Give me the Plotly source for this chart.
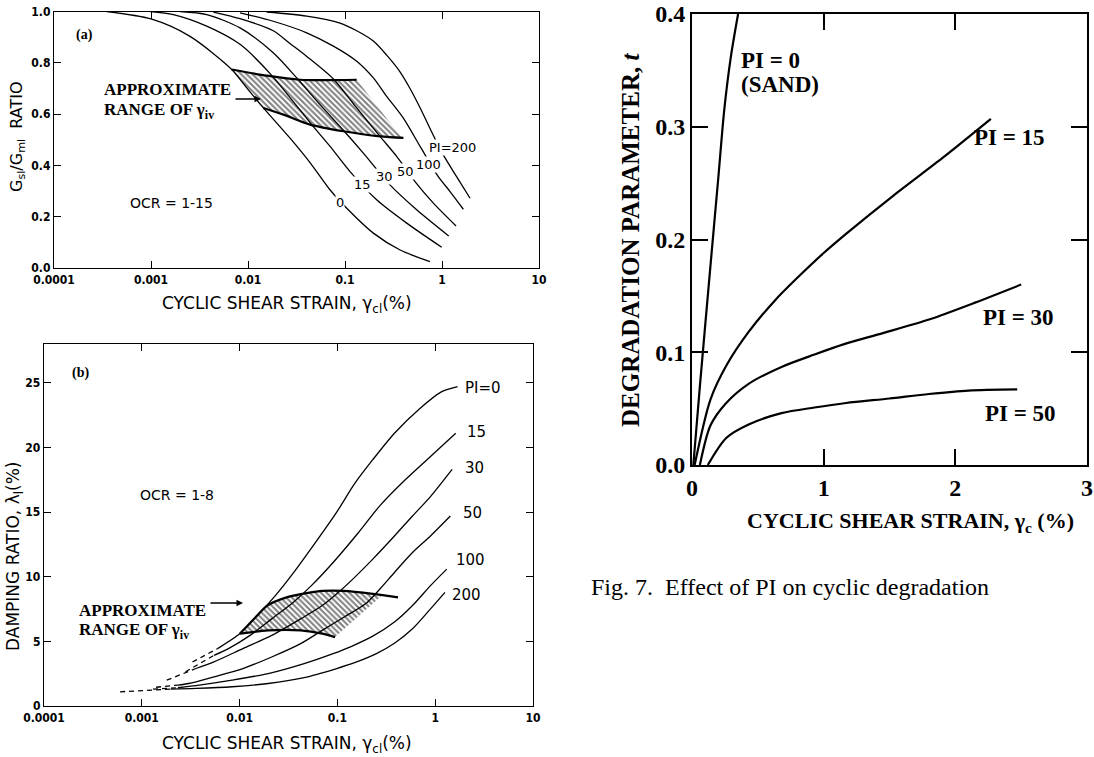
import plotly.graph_objects as go

W, H = 1094, 757


def px(x):
    return x / W


def py(y):
    return 1 - y / H


# ---------------- Panel (a): Gs/Gm ratio vs cyclic shear strain (%) ----------------
A_PI0_STRAIN = [0.00035, 0.001, 0.0025, 0.0068, 0.0097, 0.0144, 0.027, 0.044, 0.070, 0.108, 0.196, 0.37, 0.75]
A_PI0_G = [1.0, 0.971, 0.904, 0.774, 0.702, 0.624, 0.507, 0.409, 0.305, 0.227, 0.136, 0.070, 0.025]
A_PI15_STRAIN = [0.00098, 0.0017, 0.00375, 0.00828, 0.0169, 0.0454, 0.0702, 0.1127, 0.212, 0.4325, 0.993]
A_PI15_G = [1.0, 0.988, 0.943, 0.872, 0.758, 0.559, 0.474, 0.376, 0.266, 0.175, 0.081]
A_PI30_STRAIN = [0.002, 0.00375, 0.00828, 0.0182, 0.0318, 0.0553, 0.0962, 0.1545, 0.291, 0.548, 1.172]
A_PI30_G = [1.0, 0.988, 0.936, 0.839, 0.741, 0.637, 0.537, 0.448, 0.324, 0.227, 0.125]
A_PI50_STRAIN = [0.0044, 0.00828, 0.0182, 0.0271, 0.0403, 0.0759, 0.1321, 0.2296, 0.341, 0.527, 0.815, 1.396]
A_PI50_G = [0.998, 0.972, 0.925, 0.875, 0.825, 0.737, 0.624, 0.513, 0.435, 0.337, 0.253, 0.164]
A_PI100_STRAIN = [0.00828, 0.0182, 0.0403, 0.0759, 0.1321, 0.196, 0.269, 0.398, 0.603, 0.912, 1.211, 1.660]
A_PI100_G = [0.995, 0.962, 0.917, 0.865, 0.806, 0.741, 0.669, 0.585, 0.470, 0.357, 0.298, 0.229]
A_PI200_STRAIN = [0.0156, 0.0403, 0.0889, 0.1321, 0.196, 0.269, 0.369, 0.468, 0.594, 0.75, 1.0, 1.42, 1.945]
A_PI200_G = [0.998, 0.982, 0.955, 0.925, 0.885, 0.830, 0.765, 0.700, 0.625, 0.545, 0.450, 0.355, 0.272]

A_RANGE_STRAIN = [0.00679, 0.0156, 0.0344, 0.132, 0.385, 0.2296, 0.0962, 0.0437, 0.0232, 0.01439, 0.0097, 0.00679]
A_RANGE_G = [0.774, 0.750, 0.734, 0.734, 0.507, 0.513, 0.533, 0.559, 0.598, 0.624, 0.702, 0.774]
A_RANGE_TOP_STRAIN = [0.00679, 0.0156, 0.0344, 0.132]
A_RANGE_TOP_G = [0.774, 0.750, 0.734, 0.734]
A_RANGE_BOT_STRAIN = [0.01439, 0.0232, 0.0437, 0.0962, 0.2296, 0.40]
A_RANGE_BOT_G = [0.624, 0.598, 0.559, 0.533, 0.513, 0.507]

A_XTICKS = [0.0001, 0.001, 0.01, 0.1, 1, 10]
A_XTICKTEXT = ["0.0001", "0.001", "0.01", "0.1", "1", "10"]
A_YTICKS = [0.0, 0.2, 0.4, 0.6, 0.8, 1.0]
A_YTICKTEXT = ["0.0", "0.2", "0.4", "0.6", "0.8", "1.0"]

# ---------------- Panel (b): damping ratio (%) vs cyclic shear strain (%) ----------------
B_PI0_STRAIN = [0.00596, 0.0101, 0.0152, 0.0232, 0.0355, 0.059, 0.0984, 0.150, 0.230, 0.383, 0.693, 1.156, 1.694]
B_PI0_D = [4.44, 5.6, 7.0, 8.54, 10.3, 12.6, 15.0, 17.2, 19.05, 21.1, 23.0, 24.3, 24.7]
B_PI15_STRAIN = [0.00547, 0.00769, 0.0128, 0.0213, 0.0355, 0.0542, 0.0904, 0.1637, 0.2723, 0.494, 0.895, 1.622]
B_PI15_D = [3.92, 4.44, 5.46, 6.74, 8.03, 9.31, 11.1, 13.4, 15.5, 17.5, 19.3, 21.1]
B_PI30_STRAIN = [0.00358, 0.00547, 0.0108, 0.0213, 0.0421, 0.070, 0.107, 0.150, 0.230, 0.383, 0.586, 0.895, 1.489]
B_PI30_D = [2.9, 3.41, 4.44, 5.46, 6.74, 7.77, 8.92, 9.95, 11.36, 13.15, 14.7, 16.2, 18.3]
B_PI50_STRAIN = [0.00234, 0.00302, 0.00547, 0.0108, 0.0213, 0.0421, 0.070, 0.1164, 0.194, 0.272, 0.383, 0.586, 0.895, 1.429]
B_PI50_D = [1.62, 1.74, 2.26, 2.9, 3.79, 4.82, 5.85, 6.87, 7.9, 9.05, 10.33, 11.87, 13.15, 14.69]
B_PI100_STRAIN = [0.00234, 0.00389, 0.00838, 0.0196, 0.0457, 0.0904, 0.138, 0.230, 0.383, 0.586, 0.895, 1.312]
B_PI100_D = [1.41, 1.62, 2.0, 2.51, 3.28, 4.05, 4.6, 5.4, 6.49, 7.77, 9.31, 10.59]
B_PI200_STRAIN = [0.00197, 0.00358, 0.00838, 0.0196, 0.0457, 0.0984, 0.150, 0.2506, 0.383, 0.586, 0.895, 1.259]
B_PI200_D = [1.31, 1.36, 1.49, 1.74, 2.2, 2.9, 3.35, 4.05, 4.85, 5.97, 7.51, 8.79]

# dashed low-strain extensions
B_DASH_STRAIN = {
    "0": [0.0033, 0.00596],
    "15": [0.0028, 0.00547],
    "30": [0.0018, 0.00358],
    "50": [0.0014, 0.00234],
    "100": [0.0013, 0.00234],
    "200": [0.0006, 0.00197],
}
B_DASH_D = {
    "0": [3.4, 4.44],
    "15": [2.65, 3.92],
    "30": [2.0, 2.9],
    "50": [1.45, 1.62],
    "100": [1.3, 1.41],
    "200": [1.1, 1.31],
}

B_RANGE_STRAIN = [0.01009, 0.01514, 0.01905, 0.0302, 0.0501, 0.0700, 0.1164, 0.230, 0.285, 0.0946, 0.070, 0.0421, 0.0196, 0.01009]
B_RANGE_D = [5.6, 7.0, 7.75, 8.4, 8.75, 8.9, 8.9, 8.67, 8.55, 5.33, 5.6, 5.85, 5.85, 5.6]
B_RANGE_TOP_STRAIN = [0.01009, 0.01514, 0.01905, 0.0302, 0.0501, 0.0700, 0.1164, 0.230, 0.417]
B_RANGE_TOP_D = [5.6, 7.0, 7.75, 8.4, 8.75, 8.9, 8.9, 8.67, 8.4]
B_RANGE_BOT_STRAIN = [0.01009, 0.0196, 0.0421, 0.070, 0.0946]
B_RANGE_BOT_D = [5.6, 5.85, 5.85, 5.6, 5.33]

B_YTICKS = [0, 5, 10, 15, 20, 25]

# ---------------- Right panel: degradation parameter t vs cyclic shear strain (%) ----------------
R_PI0_X = [0.01, 0.06, 0.135, 0.2, 0.245, 0.295, 0.35]
R_PI0_T = [0.0, 0.07, 0.17, 0.255, 0.315, 0.362, 0.4]
R_PI15_X = [0.02, 0.14, 0.26, 0.43, 0.63, 0.8, 1.0, 1.17, 1.53, 1.91, 2.27]
R_PI15_T = [0.0, 0.058, 0.088, 0.118, 0.146, 0.166, 0.188, 0.205, 0.239, 0.273, 0.307]
R_PI30_X = [0.06, 0.14, 0.26, 0.43, 0.68, 0.93, 1.15, 1.45, 1.8, 2.15, 2.5]
R_PI30_T = [0.0, 0.035, 0.055, 0.072, 0.087, 0.098, 0.107, 0.117, 0.129, 0.144, 0.16]
R_PI50_X = [0.12, 0.26, 0.43, 0.68, 0.93, 1.17, 1.5, 1.8, 2.1, 2.47]
R_PI50_T = [0.0, 0.024, 0.036, 0.046, 0.051, 0.055, 0.059, 0.063, 0.066, 0.067]
R_XTICKS = [0, 1, 2, 3]
R_YTICKS = [0.0, 0.1, 0.2, 0.3, 0.4]
R_YTICKTEXT = ["0.0", "0.1", "0.2", "0.3", "0.4"]

# ---------------- fonts ----------------
SANS = "DejaVu Sans Condensed, DejaVu Sans, sans-serif"
SANS_W = "DejaVu Sans, sans-serif"
SERIF = "Liberation Serif, Times New Roman, serif"

fig = go.Figure()


def add_line(x, y, xa, ya, width=1.3, dash="solid", smooth=True):
    fig.add_trace(go.Scatter(
        x=x, y=y, xaxis=xa, yaxis=ya, mode="lines",
        line=dict(color="black", width=width, dash=dash,
                  shape="spline" if smooth else "linear", smoothing=0.8),
        hoverinfo="skip", showlegend=False))


def add_hatch(x, y, xa, ya):
    fig.add_trace(go.Scatter(
        x=x, y=y, xaxis=xa, yaxis=ya, mode="lines", fill="toself",
        line=dict(width=0, color="rgba(0,0,0,0)"),
        fillcolor="rgba(255,255,255,0)",
        fillpattern=dict(shape="\\", fgcolor="black", bgcolor="rgba(255,255,255,0)",
                         size=4, solidity=0.5, fillmode="overlay"),
        hoverinfo="skip", showlegend=False))


# panel (a)
add_hatch(A_RANGE_STRAIN, A_RANGE_G, "x", "y")
add_line(A_RANGE_TOP_STRAIN, A_RANGE_TOP_G, "x", "y", width=2.2)
add_line(A_RANGE_BOT_STRAIN, A_RANGE_BOT_G, "x", "y", width=2.2)
for xs, ys in [(A_PI0_STRAIN, A_PI0_G), (A_PI15_STRAIN, A_PI15_G), (A_PI30_STRAIN, A_PI30_G),
               (A_PI50_STRAIN, A_PI50_G), (A_PI100_STRAIN, A_PI100_G), (A_PI200_STRAIN, A_PI200_G)]:
    add_line(xs, ys, "x", "y", width=1.3)

# panel (b)
add_hatch(B_RANGE_STRAIN, B_RANGE_D, "x2", "y2")
add_line(B_RANGE_TOP_STRAIN, B_RANGE_TOP_D, "x2", "y2", width=2.2)
add_line(B_RANGE_BOT_STRAIN, B_RANGE_BOT_D, "x2", "y2", width=2.2)
for xs, ys in [(B_PI0_STRAIN, B_PI0_D), (B_PI15_STRAIN, B_PI15_D), (B_PI30_STRAIN, B_PI30_D),
               (B_PI50_STRAIN, B_PI50_D), (B_PI100_STRAIN, B_PI100_D), (B_PI200_STRAIN, B_PI200_D)]:
    add_line(xs, ys, "x2", "y2", width=1.3)
for k in B_DASH_STRAIN:
    add_line(B_DASH_STRAIN[k], B_DASH_D[k], "x2", "y2", width=1.3, dash="5px,4px", smooth=False)

# right panel
for xs, ys in [(R_PI0_X, R_PI0_T), (R_PI15_X, R_PI15_T), (R_PI30_X, R_PI30_T), (R_PI50_X, R_PI50_T)]:
    add_line(xs, ys, "x3", "y3", width=2.2)

axis_small = dict(showline=True, linecolor="black", linewidth=1.4, mirror="ticks",
                  ticks="inside", tickcolor="black", ticklen=7, tickwidth=1.3,
                  showgrid=False, zeroline=False, automargin=False,
                  tickfont=dict(family=SANS, size=12, color="black", weight="bold"))
axis_big = dict(showline=True, linecolor="black", linewidth=2, mirror="ticks",
                ticks="inside", tickcolor="black", ticklen=16, tickwidth=2,
                showgrid=False, zeroline=False, automargin=False,
                tickfont=dict(family=SERIF, size=24, color="black", weight="bold"))

fig.update_layout(
    width=W, height=H, margin=dict(l=0, r=0, t=0, b=0),
    paper_bgcolor="white", plot_bgcolor="white", showlegend=False,
    xaxis=dict(axis_small, type="log", range=[-4, 1], domain=[px(54), px(539)], anchor="y",
               tickvals=A_XTICKS, ticktext=A_XTICKTEXT),
    yaxis=dict(axis_small, range=[0, 1], domain=[py(268), py(11.5)], anchor="x",
               tickvals=A_YTICKS, ticktext=A_YTICKTEXT),
    xaxis2=dict(axis_small, type="log", range=[-4, 1], domain=[px(44), px(533)], anchor="y2",
                tickvals=A_XTICKS, ticktext=A_XTICKTEXT),
    yaxis2=dict(axis_small, range=[0, 28], domain=[py(706), py(344)], anchor="x2",
                tickvals=B_YTICKS),
    xaxis3=dict(axis_big, range=[0, 3], domain=[px(692), px(1087)], anchor="y3",
                tickvals=R_XTICKS),
    yaxis3=dict(axis_big, range=[0, 0.4], domain=[py(465), py(14)], anchor="x3",
                tickvals=R_YTICKS, ticktext=R_YTICKTEXT),
)


def ann(text, x, y, size, family, xanchor="center", yanchor="middle", angle=0, bold=False, bg=None):
    kw = dict(text=text, x=px(x), y=py(y), xref="paper", yref="paper", showarrow=False,
              font=dict(family=family, size=size, color="black", weight="bold" if bold else "normal"),
              xanchor=xanchor, yanchor=yanchor, textangle=angle, borderpad=0)
    if bg:
        kw["bgcolor"] = bg
    fig.add_annotation(**kw)


def arrow(x_head, y_head, dx):
    fig.add_annotation(text="", x=px(x_head), y=py(y_head), xref="paper", yref="paper",
                       showarrow=True, ax=-dx, ay=0, arrowhead=2, arrowsize=1,
                       arrowwidth=1.3, arrowcolor="black")


# panel (a) texts
ann("(a)", 84, 35, 14, SERIF, bold=True)
ann("APPROXIMATE", 103, 90, 17, SERIF, xanchor="left", bold=True)
ann("RANGE OF γ<sub>iv</sub>", 103, 111, 17, SERIF, xanchor="left", bold=True)
arrow(261, 99, 27)
ann("OCR = 1-15", 171, 203, 14, SANS_W)
ann("0", 340, 202, 13, SANS_W, bg="white")
ann("15", 362, 184, 13, SANS_W, bg="white")
ann("30", 384, 177, 13, SANS_W, bg="white")
ann("50", 405, 172, 13, SANS_W, bg="white")
ann("100", 428, 165, 13, SANS_W, bg="white")
ann("PI=200", 452, 147, 13, SANS_W, bg="white")
ann("CYCLIC SHEAR STRAIN, γ<sub>cl</sub>(%)", 287, 304, 17, SANS_W)
ann("G<sub>sl</sub>/G<sub>ml</sub>  RATIO", 17, 137, 16, SANS_W, angle=-90)

# panel (b) texts
ann("(b)", 80, 373, 14, SERIF, bold=True)
ann("OCR = 1-8", 177, 495, 14, SANS_W)
ann("APPROXIMATE", 78, 610, 17, SERIF, xanchor="left", bold=True)
ann("RANGE OF γ<sub>iv</sub>", 78, 631, 17, SERIF, xanchor="left", bold=True)
arrow(243, 603, 34)
ann("PI=0", 464, 388, 15, SANS_W, xanchor="left")
ann("15", 466, 432, 15, SANS_W, xanchor="left")
ann("30", 464, 468, 15, SANS_W, xanchor="left")
ann("50", 462, 513, 15, SANS_W, xanchor="left")
ann("100", 455, 560, 15, SANS_W, xanchor="left")
ann("200", 451, 595, 15, SANS_W, xanchor="left")
ann("CYCLIC SHEAR STRAIN, γ<sub>cl</sub>(%)", 287, 744, 17, SANS_W)
ann("DAMPING RATIO, λ<sub>l</sub>(%)", 14, 557, 17, SANS_W, angle=-90)

# right panel texts
ann("PI = 0", 740, 60, 23, SERIF, xanchor="left", bold=True)
ann("(SAND)", 740, 84, 23, SERIF, xanchor="left", bold=True)
ann("PI = 15", 1009, 137, 23, SERIF, bold=True)
ann("PI = 30", 1018, 317, 23, SERIF, bold=True)
ann("PI = 50", 1020, 413, 23, SERIF, bold=True)
ann("DEGRADATION PARAMETER, <i>t</i>", 630, 240, 25, SERIF, angle=-90, bold=True)
ann("CYCLIC SHEAR STRAIN, γ<sub>c</sub> (%)", 910, 522, 22, SERIF, bold=True)
ann("Fig. 7.  Effect of PI on cyclic degradation", 790, 587, 24, SERIF)

fig.write_html("out.html", config={"displayModeBar": False},
               post_script="document.body.style.margin='0px';")
